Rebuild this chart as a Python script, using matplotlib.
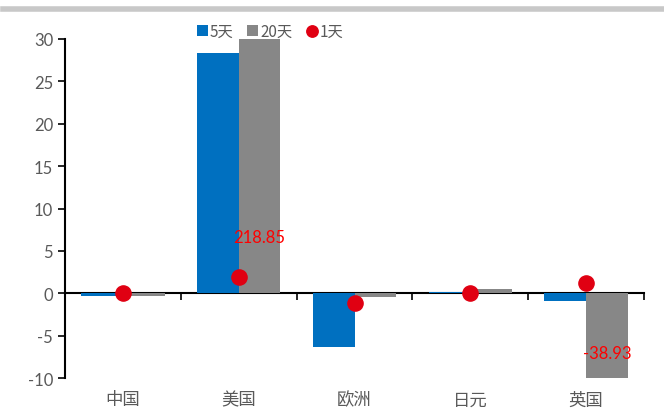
import matplotlib
matplotlib.use('Agg')
import matplotlib.pyplot as plt
import numpy as np
from matplotlib.lines import Line2D

plt.rcParams['font.family'] = ['Noto Sans CJK SC', 'DejaVu Sans']
plt.rcParams['axes.unicode_minus'] = False

# data
categories = ['中国', '美国', '欧洲', '日元', '英国']
d5 = [-0.3, 28.3, -6.3, 0.2, -0.9]
d20 = [-0.3, 218.85, -0.5, 0.5, -38.93]
d1 = [0.0, 1.9, -1.2, 0.0, 1.2]
# labels for bars cut off by the axis range
clip_labels = {1: '218.85', 4: '-38.93'}
clip_label_y = {1: 6.6, 4: -7.0}

blue = '#0070c0'
grey = '#878787'
red = '#e00012'
txt = '#595959'
numfont = ['Lato', 'DejaVu Sans']

fig = plt.figure(figsize=(6.64, 4.14), dpi=100)
ax = fig.add_axes([65/664, 35/414, 579/664, 339/414])

x = np.arange(len(categories))
w = 0.36
b5 = ax.bar(x - w/2, d5, w, color=blue, label='5天')
b20 = ax.bar(x + w/2, d20, w, color=grey, label='20天')
s1 = ax.scatter(x, d1, s=120, color=red, zorder=5, label='1天')

for i, s in clip_labels.items():
    ax.text(x[i] + w/2, clip_label_y[i], s, color='#ff0000', fontsize=12,
            ha='center', va='center', family=numfont, zorder=6)

ax.set_xlim(-0.5, 4.5)
ax.set_ylim(-10, 30)
ax.set_yticks(range(-10, 31, 5))
ax.tick_params(axis='y', direction='out', length=5, width=1.2, colors='black',
               labelcolor=txt, labelsize=12)
for t in ax.get_yticklabels():
    t.set_family(numfont)

ax.set_xticks(x)
ax.set_xticklabels(categories, fontsize=12.5, color=txt)
ax.tick_params(axis='x', length=0, pad=9)

for s in ['top', 'right', 'bottom']:
    ax.spines[s].set_visible(False)
ax.spines['left'].set_linewidth(1.5)

# zero line with category divider ticks
sec = ax.secondary_xaxis(0.25)
sec.set_xticks(np.arange(0.5, 5, 1.0))
sec.set_xticklabels([])
sec.tick_params(axis='x', direction='out', length=5, width=1.2)
sec.spines['bottom'].set_linewidth(1.5)

fig.add_artist(Line2D([0.005, 1.0], [0.975, 0.975], color='#c8c8c8', lw=4,
                      transform=fig.transFigure))

leg = fig.legend([b5, b20, s1], ['5天', '20天', '1天'], loc='center',
                 bbox_to_anchor=(270/664, 1 - 32/414), ncol=3,
                 frameon=False, fontsize=11, labelcolor=txt, handlelength=0.7,
                 handleheight=0.7, handletextpad=0.15, columnspacing=0.9,
                 markerscale=0.75)

fig.savefig('out.png', dpi=100)
